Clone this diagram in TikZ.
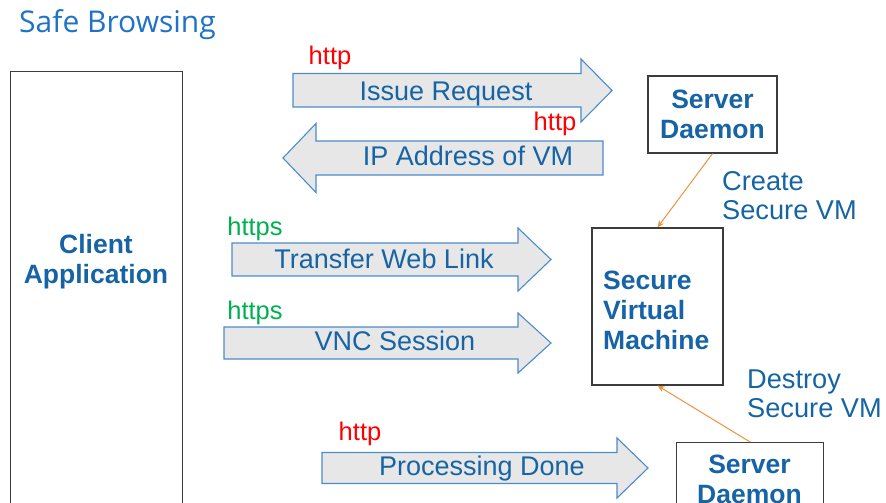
\documentclass[tikz,border=0pt]{standalone}
\usepackage{fontspec}
\setmainfont{Liberation Sans}
\newfontfamily\titlefont{Open Sans}
\usetikzlibrary{arrows.meta}

\definecolor{labelblue}{RGB}{22,100,165}
\definecolor{titleblue}{RGB}{30,115,200}
\definecolor{arrowedge}{RGB}{75,140,205}
\definecolor{arrowfill}{RGB}{231,231,231}
\definecolor{boxedge}{RGB}{60,60,60}
\definecolor{linkorange}{RGB}{240,145,60}
\definecolor{httpred}{RGB}{255,0,0}
\definecolor{httpsgreen}{RGB}{0,176,80}

\tikzset{
  blockarrow/.style={draw=arrowedge, fill=arrowfill, line width=1.1pt, line join=miter},
  arrowtext/.style={anchor=base, inner sep=0pt, text=labelblue, font=\fontsize{27}{30}\selectfont},
  proto/.style={anchor=base, inner sep=0pt, font=\fontsize{25.5}{30}\selectfont},
  unitbox/.style={draw=boxedge, line width=1.2pt, fill=white, inner sep=0pt},
  boxtext/.style={text=labelblue, font=\fontsize{26.5}{30}\selectfont\bfseries, inner sep=0pt},
  note/.style={anchor=base west, inner sep=0pt, text=labelblue, align=left, font=\fontsize{27.2}{29.5}\selectfont},
  vmlink/.style={draw=linkorange, line width=1pt, -{Stealth[length=7pt,width=6pt]}}
}

\begin{document}
\begin{tikzpicture}[x=1pt, y=-1pt]
\useasboundingbox (0,0) rectangle (886,503);

% heading
\node[anchor=base west, inner sep=0pt, text=titleblue, font=\titlefont\fontsize{30}{33}\selectfont] (title) at (19,33) {Safe Browsing};

% client side (multi-line nodes are placed by the baseline of their last line)
\node[unitbox, minimum width=172pt, minimum height=460pt, anchor=north west] (client) at (10,71) {};
\node[boxtext, align=center, anchor=base] (clienttext) at (96,283) {Client\\Application};

% server daemons and the secure VM
\node[unitbox, minimum width=129pt, minimum height=77pt, boxtext, align=center] (sd1) at (712.5,114.5) {Server\\Daemon};
\node[unitbox, minimum width=131pt, minimum height=157pt] (vm) at (657.5,306.5) {};
\node[boxtext, align=left, anchor=base west] (vmtext) at (603,349) {Secure\\Virtual\\Machine};
\node[unitbox, minimum width=147pt, minimum height=80pt, anchor=north west] (sd2) at (676,442) {};
\node[boxtext, align=center, anchor=base] (sd2text) at (749.5,503) {Server\\Daemon};

% VM lifecycle links
\draw[vmlink] (sd1.south) -- (vm.north);
\draw[vmlink] (sd2.north) -- (vm.south);
\node[note] (create) at (722,219.5) {Create\\Secure VM};
\node[note] (destroy) at (747,417.5) {Destroy\\Secure VM};

% message arrows
\draw[blockarrow] (293,73.5) -- (581,73.5) -- (581,59) -- (612,90.5) -- (581,122) -- (581,107) -- (293,107) -- cycle;
\node[arrowtext] (issue) at (446,100) {Issue Request};
\node[proto, text=httpred] (http1) at (330,65) {http};

\draw[blockarrow] (603,141) -- (316,141) -- (316,123.5) -- (283,158) -- (316,192.5) -- (316,175) -- (603,175) -- cycle;
\node[arrowtext] (ipaddr) at (468,165) {IP Address of VM};
\node[proto, text=httpred] (http2) at (555,130) {http};

\draw[blockarrow] (232,243) -- (518,243) -- (518,228) -- (551,259.5) -- (518,291) -- (518,276) -- (232,276) -- cycle;
\node[arrowtext] (weblink) at (384,268) {Transfer Web Link};
\node[proto, text=httpsgreen] (https1) at (255,235) {https};

\draw[blockarrow] (224,327) -- (518,327) -- (518,313) -- (551,343) -- (518,373) -- (518,359) -- (224,359) -- cycle;
\node[arrowtext] (vnc) at (395,350) {VNC Session};
\node[proto, text=httpsgreen] (https2) at (255,319) {https};

\draw[blockarrow] (322,452.5) -- (617,452.5) -- (617,438) -- (648,468) -- (617,498) -- (617,483.5) -- (322,483.5) -- cycle;
\node[arrowtext] (done) at (482,475) {Processing Done};
\node[proto, text=httpred] (http3) at (360,440) {http};
\end{tikzpicture}
\end{document}
